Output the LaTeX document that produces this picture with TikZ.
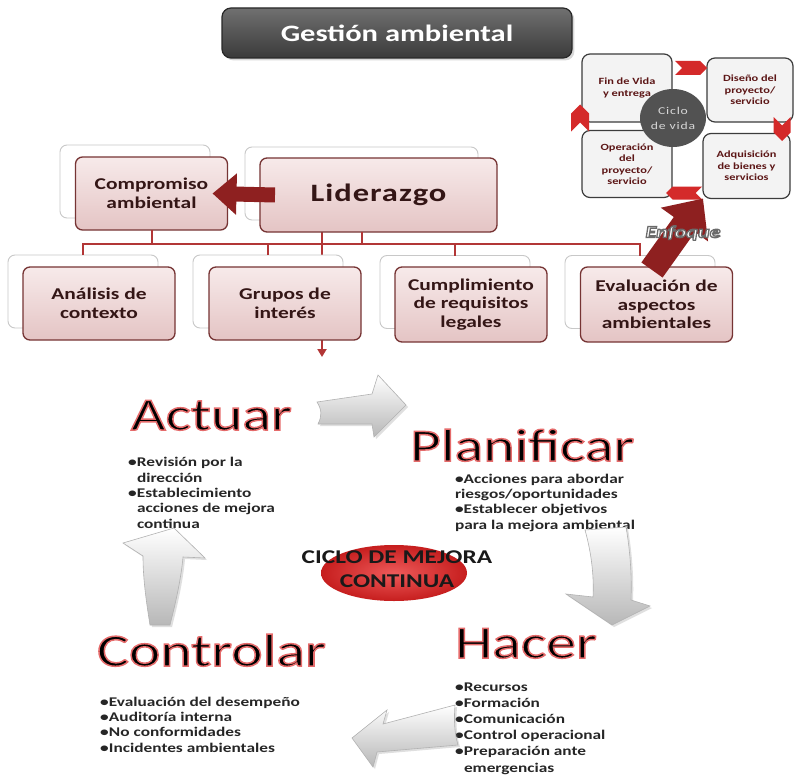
\documentclass[tikz,border=0pt]{standalone}
\usepackage{fontspec}
\setmainfont{Carlito}[FakeStretch=1.3]
\newfontfamily\lidfont{Carlito}[FakeStretch=1.3,LetterSpace=4]
\newfontfamily\ciclofont{Carlito}[FakeStretch=1.3,LetterSpace=8]
\usetikzlibrary{shapes.geometric,shapes.arrows,shapes.symbols,arrows.meta,backgrounds,shadows,calc}
\definecolor{titleT}{RGB}{112,112,112}
\definecolor{titleB}{RGB}{58,58,58}
\definecolor{titleedge}{RGB}{40,40,40}
\definecolor{pinkT}{RGB}{247,234,234}
\definecolor{pinkB}{RGB}{228,196,196}
\definecolor{boxedge}{RGB}{118,52,52}
\definecolor{backedge}{RGB}{200,200,200}
\definecolor{boxtext}{RGB}{52,22,22}
\definecolor{busred}{RGB}{178,54,54}
\definecolor{darkred}{RGB}{142,32,32}
\definecolor{lifefill}{RGB}{243,243,243}
\definecolor{lifeedge}{RGB}{60,60,60}
\definecolor{lifetext}{RGB}{92,22,22}
\definecolor{circ}{RGB}{82,82,82}
\definecolor{circtext}{RGB}{215,215,215}
\definecolor{chevred}{RGB}{212,42,42}
\definecolor{ellin}{RGB}{238,90,90}
\definecolor{ellout}{RGB}{198,30,30}
\newcommand\bul{\makebox[9pt][l]{•}}
\newcommand\ind{\hspace*{9pt}}
% text drawn filled and outlined (glow-like edge)
\newcommand\glowtext[1]{\special{pdf:literal direct 2 Tr 1.5 w 0.9 0.42 0.42 RG}#1\special{pdf:literal direct 0 Tr}}
\newcommand\graytext[1]{\special{pdf:literal direct 2 Tr 1.3 w 0.42 0.42 0.42 RG}#1\special{pdf:literal direct 0 Tr}}
\begin{document}
\begin{tikzpicture}[x=1pt,y=-1pt,
  every node/.style={inner sep=0pt,outer sep=0pt},
  titlebox/.style={rounded corners=9pt,draw=titleedge,line width=1.2pt,top color=titleT,bottom color=titleB,
    minimum width=350pt,minimum height=50pt,text=white,font=\bfseries\fontsize{23.5}{26}\selectfont,
    drop shadow={opacity=0.3}},
  backbox/.style={draw=backedge,fill=white,rounded corners=7pt,minimum width=150pt,minimum height=73pt,line width=0.9pt},
  frontbox/.style={draw=boxedge,line width=1.3pt,top color=pinkT,bottom color=pinkB,rounded corners=7pt,
    minimum width=152pt,minimum height=73pt,text=boxtext,font=\bfseries\fontsize{16.5}{18.5}\selectfont,align=center},
  busline/.style={draw=busred,line width=2pt},
  lifebox/.style={draw=lifeedge,line width=1.2pt,fill=lifefill,rounded corners=8pt,text=lifetext,
    font=\bfseries\fontsize{9.5}{11.5}\selectfont,align=center},
  chev/.style={signal,fill=chevred,draw=none},
  bigword/.style={font=\fontsize{46}{50}\selectfont,anchor=base west,text=black},
  bullets/.style={font=\bfseries\fontsize{13.3}{15.3}\selectfont,anchor=base west,align=left,text=black!85},
  whitearrow/.style={draw=black!30,line width=0.6pt,top color=white,bottom color=black!28,
    drop shadow={opacity=0.25,shadow xshift=2pt,shadow yshift=-2pt}}]
\useasboundingbox (0,0) rectangle (795,776);

% title
\node[titlebox] (title) at (397,33) {Gestión ambiental};

% life cycle
\node[lifebox,minimum width=90pt,minimum height=68pt] (fin) at (627,88) {Fin de Vida\\y entrega};
\node[lifebox,minimum width=86pt,minimum height=64pt] (dis) at (750,90) {Diseño del\\proyecto/\\servicio};
\node[lifebox,minimum width=90pt,minimum height=67pt] (ope) at (627,164) {Operación\\del\\proyecto/\\servicio};
\node[lifebox,minimum width=87pt,minimum height=65pt] (adq) at (746.5,166) {Adquisición\\de bienes y\\servicios};
\node[ellipse,fill=circ,minimum width=66pt,minimum height=58pt,text=circtext,
  font=\ciclofont\fontsize{10.5}{15}\selectfont,align=center] (ciclo) at (673,118) {Ciclo\\de vida};
\node[chev,signal to=east,signal from=west,minimum width=32pt,minimum height=14pt] (chT) at (691,68) {};
\node[chev,signal to=south,signal from=north,minimum width=17pt,minimum height=7pt] (chR) at (782,129) {};
\node[chev,signal to=west,signal from=east,minimum width=36pt,minimum height=13pt] (chB) at (684,193) {};
\node[chev,signal to=north,signal from=south,minimum width=18pt,minimum height=9pt] (chL) at (580,118) {};

% org chart
\node[backbox] (compB) at (135,181.5) {};
\node[backbox,minimum width=233pt] (lidB) at (361.5,183.5) {};
\node[frontbox] (comp) at (151.5,193.5) {Compromiso\\ambiental};
\node[frontbox,minimum width=237pt,minimum height=74pt,font=\lidfont\bfseries\fontsize{25}{28}\selectfont] (lid) at (378.5,195) {Liderazgo};

\node[backbox] (anaB) at (83,291.5) {};
\node[backbox] (gruB) at (268,291.5) {};
\node[backbox] (cumB) at (455,292) {};
\node[backbox] (evaB) at (640,292) {};
\node[frontbox] (ana) at (99,303.5) {Análisis de\\contexto};
\node[frontbox] (gru) at (285,303.5) {Grupos de\\interés};
\node[frontbox,minimum height=75pt] (cum) at (471,304.5) {Cumplimiento\\de requisitos\\legales};
\node[frontbox,minimum height=75pt] (eva) at (656.5,304.5) {Evaluación de\\aspectos\\ambientales};

\coordinate (bus) at (0,244);
\coordinate (gdown) at (322,357);
\begin{pgfonlayer}{background}
\fill[white] (0,0) rectangle (795,776);
\draw[busline,-{Triangle[width=9pt,length=8pt]}] (gdown |- lid.south) -- (gdown);
\end{pgfonlayer}
\draw[busline] (comp.south) -- (comp.south |- bus);
\draw[busline] (lidB.south |- lid.south) -- (lidB.south |- bus);
\draw[busline] (anaB.north) -- (anaB.north |- bus) -- (evaB.north |- bus) -- (evaB.north);
\draw[busline] (gruB.north) -- (gruB.north |- bus);
\draw[busline] (cumB.north) -- (cumB.north |- bus);
\draw[draw=darkred,line width=15pt,-{Triangle[width=40pt,length=24pt]}] ([xshift=15pt]lid.west) -- ([xshift=-15pt]comp.east);

% Enfoque arrow
\coordinate (enfs) at (652,270);
\draw[draw=darkred,line width=26pt,-{Triangle[width=56pt,length=32pt]}] (enfs) -- (adq.south west);
\node[font=\bfseries\itshape\fontsize{17}{20}\selectfont,text=white] (enf) at (683,233) {\graytext{Enfoque}};

% PDCA cycle
\node[ellipse,minimum width=146pt,minimum height=56pt,inner color=ellin,outer color=ellout] (ell) at (394,573) {};
\node[font=\bfseries\fontsize{19.5}{24}\selectfont,align=center,text=black!90] (elltext) at (397,569) {CICLO DE MEJORA\\CONTINUA};

\node[bigword] (actuar) at (131,430) {\glowtext{Actuar}};
\node[bigword] (planif) at (410,461) {\glowtext{Planificar}};
\node[bigword] (hacer) at (455,658) {\glowtext{Hacer}};
\node[bigword] (controlar) at (97,666) {\glowtext{Controlar}};

% multi-line nodes: base anchor = baseline of last line
\node[bullets] (actb) at (128,528) {\bul Revisión por la\\\ind dirección\\\bul Establecimiento\\\ind acciones de mejora\\\ind continua};
\node[bullets] (planb) at (455,529) {•Acciones para abordar\\riesgos/oportunidades\\•Establecer objetivos\\para la mejora ambiental};
\node[bullets,font=\bfseries\fontsize{13.3}{16.2}\selectfont] (hacb) at (455,772) {\bul Recursos\\\bul Formación\\\bul Comunicación\\\bul Control operacional\\\bul Preparación ante\\\ind emergencias};
\node[bullets] (conb) at (100,752) {\bul Evaluación del desempeño\\\bul Auditoría interna\\\bul No conformidades\\\bul Incidentes ambientales};

% white 3D arrows
\path[whitearrow] (317,402) -- (372,394) -- (378,375) -- (406,405) -- (374,437) -- (372,424) -- (318,424) .. controls (322,416) and (322,410) .. (317,402) -- cycle;
\path[whitearrow] (585,530) .. controls (592,555) and (594,578) .. (593,597) -- (566,594) -- (612,625) -- (650,606) -- (631,600) .. controls (632,575) and (630,550) .. (626,527) -- cycle;
\path[whitearrow] (455,705) -- (383,724) -- (387,710) -- (352,738) -- (373,767) -- (377,752) -- (458,745) .. controls (454,732) and (454,718) .. (455,705) -- cycle;
\path[whitearrow] (150,625) .. controls (146,600) and (143,578) .. (143,556) -- (123,543) -- (174,528) -- (205,558) -- (183,557) .. controls (181,580) and (175,605) .. (170,625) -- cycle;
\end{tikzpicture}
\end{document}
